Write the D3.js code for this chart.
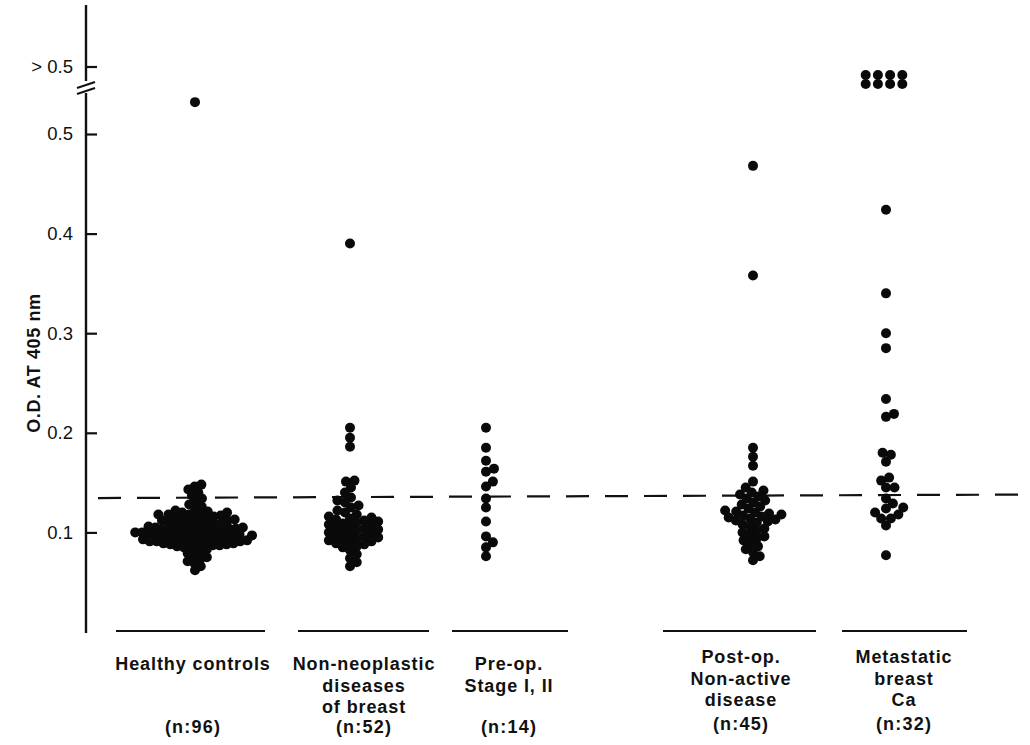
<!DOCTYPE html>
<html>
<head>
<meta charset="utf-8">
<script src="https://cdn.jsdelivr.net/npm/d3@7"></script>
<style>
  html, body { margin: 0; padding: 0; background: #fff; }
  svg { display: block; }
  text { font-family: "Liberation Sans", Arial, Helvetica, sans-serif; fill: #111; }
</style>
</head>
<body>
<svg id="chart" width="1030" height="745"></svg>
<script>
// ---------------- DATA ----------------
const groups = ["Healthy controls", "Non-neoplastic", "Pre-op.", "Post-op.", "Metastatic"];
const groupLabelLines = [
  ["Healthy controls"],
  ["Non-neoplastic", "diseases", "of breast"],
  ["Pre-op.", "Stage I, II"],
  ["Post-op.", "Non-active", "disease"],
  ["Metastatic", "breast", "Ca"]
];
const groupN = ["(n:96)", "(n:52)", "(n:14)", "(n:45)", "(n:32)"];

const healthyValues = [
  0.532,
  0.148, 0.146, 0.143, 0.140, 0.137, 0.134, 0.131, 0.128, 0.126, 0.124,
  0.122, 0.121, 0.120, 0.120, 0.119, 0.118, 0.118, 0.117, 0.116, 0.115,
  0.115, 0.114, 0.113, 0.112, 0.112, 0.111, 0.110, 0.110, 0.109, 0.108,
  0.108, 0.107, 0.106, 0.106, 0.105, 0.105, 0.104, 0.104, 0.103, 0.103,
  0.102, 0.102, 0.101, 0.101, 0.100, 0.100, 0.100, 0.099, 0.099, 0.098,
  0.098, 0.097, 0.097, 0.096, 0.096, 0.095, 0.095, 0.094, 0.094, 0.093,
  0.093, 0.092, 0.092, 0.091, 0.091, 0.090, 0.090, 0.089, 0.089, 0.088,
  0.088, 0.087, 0.087, 0.086, 0.085, 0.084, 0.083, 0.081, 0.079, 0.077,
  0.118, 0.113, 0.109, 0.104, 0.100, 0.097, 0.094, 0.091, 0.088,
  0.075, 0.073, 0.071, 0.069, 0.066, 0.062
];
const nonNeoplasticValues = [
  0.390, 0.205, 0.195, 0.186, 0.152, 0.151,
  0.145, 0.140, 0.135, 0.132, 0.130, 0.127, 0.125, 0.122, 0.120, 0.118,
  0.116, 0.115, 0.114, 0.113, 0.112, 0.111, 0.110, 0.109, 0.108, 0.107,
  0.106, 0.105, 0.104, 0.103, 0.102, 0.101, 0.100, 0.099, 0.098, 0.097,
  0.096, 0.095, 0.094, 0.093, 0.092, 0.091, 0.090, 0.089, 0.088,
  0.086, 0.085, 0.082, 0.078, 0.074, 0.070, 0.066
];
const preOpValues = [
  0.205, 0.185, 0.172, 0.164, 0.161, 0.151, 0.146,
  0.134, 0.125, 0.111, 0.096, 0.090, 0.085, 0.076
];
const postOpValues = [
  0.468, 0.358, 0.185, 0.176, 0.167, 0.151,
  0.145, 0.142, 0.140, 0.138, 0.136, 0.134, 0.132, 0.130, 0.128, 0.126,
  0.124, 0.122, 0.121, 0.120, 0.119, 0.118, 0.117, 0.116, 0.115, 0.114,
  0.113, 0.112, 0.111, 0.110, 0.108, 0.106, 0.104, 0.102, 0.100, 0.098,
  0.096, 0.094, 0.092, 0.089, 0.086, 0.083, 0.080, 0.076, 0.072
];
const metastaticValues = [
  ">0.5", ">0.5", ">0.5", ">0.5", ">0.5", ">0.5", ">0.5", ">0.5",
  0.424, 0.340, 0.300, 0.285, 0.234, 0.219, 0.216, 0.180, 0.178, 0.171,
  0.155, 0.152, 0.145, 0.145, 0.134, 0.129, 0.125, 0.124, 0.120, 0.118,
  0.114, 0.114, 0.107, 0.077
];
const seriesValues = [healthyValues, nonNeoplasticValues, preOpValues, postOpValues, metastaticValues];

const yTickValues = [0.1, 0.2, 0.3, 0.4, 0.5];
const yTickLabels = ["0.1", "0.2", "0.3", "0.4", "0.5"];
const overTickLabel = "> 0.5";
const yAxisTitle = "O.D. AT 405 nm";
const cutoffValue = 0.1345;

// ---------------- LAYOUT ----------------
const W = 1030, H = 745;
const axisX = 86;
const svg = d3.select("#chart");
svg.append("rect").attr("width", W).attr("height", H).attr("fill", "#fff");

const y = d3.scaleLinear().domain([0, 0.5]).range([632, 134]);
const overY = 67;           // position of the "> 0.5" tick
const labelX = d3.scaleOrdinal().domain(groups).range([193, 364, 509, 741, 904]);
const dotX = d3.scaleOrdinal().domain(groups).range([195, 350, 486, 753, 886]);
const packDist = d3.scaleOrdinal().domain(groups).range([7, 7.8, 8.5, 7.8, 8.5]);
const lineSpan = d3.scaleOrdinal().domain(groups).range([[116, 265], [298, 429], [452, 568], [663, 816], [842, 967]]);

const R = 5;       // drawn dot radius

// deterministic beeswarm
function swarm(vals, cx, D) {
  const nodes = vals.filter(v => typeof v === "number").map(v => ({ v, y: y(v) }));
  const order = nodes.slice().sort((a, b) => a.v - b.v);
  const placed = [];
  for (const n of order) {
    const blocks = [];
    for (const p of placed) {
      const dy = Math.abs(p.y - n.y);
      if (dy < D) { const dx = Math.sqrt(D * D - dy * dy); blocks.push([p.x - dx, p.x + dx]); }
    }
    const cands = [cx];
    blocks.forEach(b => cands.push(b[0], b[1]));
    cands.sort((a, b) => (Math.abs(a - cx) - Math.abs(b - cx)) || (b - a));
    n.x = cands.find(c => blocks.every(b => c <= b[0] + 1e-6 || c >= b[1] - 1e-6));
    placed.push(n);
  }
  return nodes;
}

// ---------------- AXIS ----------------
const axisG = svg.append("g");
axisG.append("line").attr("x1", axisX).attr("x2", axisX).attr("y1", 5).attr("y2", 81)
  .attr("stroke", "#111").attr("stroke-width", 2.4);
axisG.append("line").attr("x1", axisX).attr("x2", axisX).attr("y1", 93).attr("y2", 633)
  .attr("stroke", "#111").attr("stroke-width", 2.4);
// break marks
[0, 6].forEach(o => {
  axisG.append("line").attr("x1", 77).attr("y1", 88 + o).attr("x2", 95).attr("y2", 82 + o)
    .attr("stroke", "#111").attr("stroke-width", 2);
});
// ticks via d3 axis on the continuous segment
const yAxis = d3.axisRight(y).tickValues(yTickValues).tickSize(11).tickFormat("");
const ticksG = svg.append("g").attr("transform", `translate(${axisX},0)`).call(yAxis);
ticksG.select(".domain").remove();
ticksG.selectAll(".tick line").attr("stroke", "#111").attr("stroke-width", 2.2);
// over tick
svg.append("line").attr("x1", axisX).attr("x2", axisX + 11).attr("y1", overY).attr("y2", overY)
  .attr("stroke", "#111").attr("stroke-width", 2.2);

svg.selectAll("text.ytl").data(yTickValues).join("text")
  .attr("class", "ytl")
  .attr("x", 73).attr("y", d => y(d)).attr("dy", "0.35em")
  .attr("text-anchor", "end").attr("font-size", 18.5)
  .text((d, i) => yTickLabels[i]);
svg.append("text").attr("x", 73).attr("y", overY).attr("dy", "0.35em")
  .attr("text-anchor", "end").attr("font-size", 18.5).text(overTickLabel);

svg.append("text")
  .attr("transform", `translate(40,${y(0.27)}) rotate(-90)`)
  .attr("text-anchor", "middle").attr("font-size", 18).attr("font-weight", "bold")
  .attr("letter-spacing", 0.6)
  .text(yAxisTitle);

// ---------------- CUTOFF LINE ----------------
svg.append("line").attr("x1", 98).attr("x2", W).attr("y1", y(cutoffValue)).attr("y2", y(cutoffValue) - 3.5)
  .attr("stroke", "#111").attr("stroke-width", 2.2).attr("stroke-dasharray", "23,16");

// ---------------- GROUP BASELINES & LABELS ----------------
const labelStyle = sel => sel.attr("text-anchor", "middle").attr("font-size", 18)
  .attr("font-weight", "bold").attr("letter-spacing", 0.9);
groups.forEach((g, gi) => {
  const span = lineSpan(g);
  svg.append("line").attr("x1", span[0]).attr("x2", span[1]).attr("y1", 631).attr("y2", 631)
    .attr("stroke", "#111").attr("stroke-width", 2.2);
  const right = gi >= 3;
  const top = right ? 663 : 670;
  groupLabelLines[gi].forEach((t, li) => {
    svg.append("text").attr("x", labelX(g)).attr("y", top + li * 21.6).call(labelStyle).text(t);
  });
  svg.append("text").attr("x", labelX(g)).attr("y", right ? 729.5 : 732.5)
    .call(labelStyle).attr("letter-spacing", 1.2).text(groupN[gi]);
});

// ---------------- DOTS ----------------
const dotsG = svg.append("g");
groups.forEach((g, gi) => {
  const vals = seriesValues[gi];
  const nodes = swarm(vals, dotX(g), packDist(g));
  dotsG.selectAll(null).data(nodes).join("circle")
    .attr("cx", d => d.x).attr("cy", d => d.y).attr("r", R).attr("fill", "#0a0a0a");
  // off-scale values (> 0.5) stacked in rows of four beside the break
  const over = vals.filter(v => typeof v !== "number");
  const perRow = 4, sp = 12.2;
  dotsG.selectAll(null).data(over).join("circle")
    .attr("cx", (d, i) => dotX(g) + ((i % perRow) - (perRow - 1) / 2) * sp - 2)
    .attr("cy", (d, i) => overY + 8 + Math.floor(i / perRow) * 9)
    .attr("r", R).attr("fill", "#0a0a0a");
});
</script>
</body>
</html>
